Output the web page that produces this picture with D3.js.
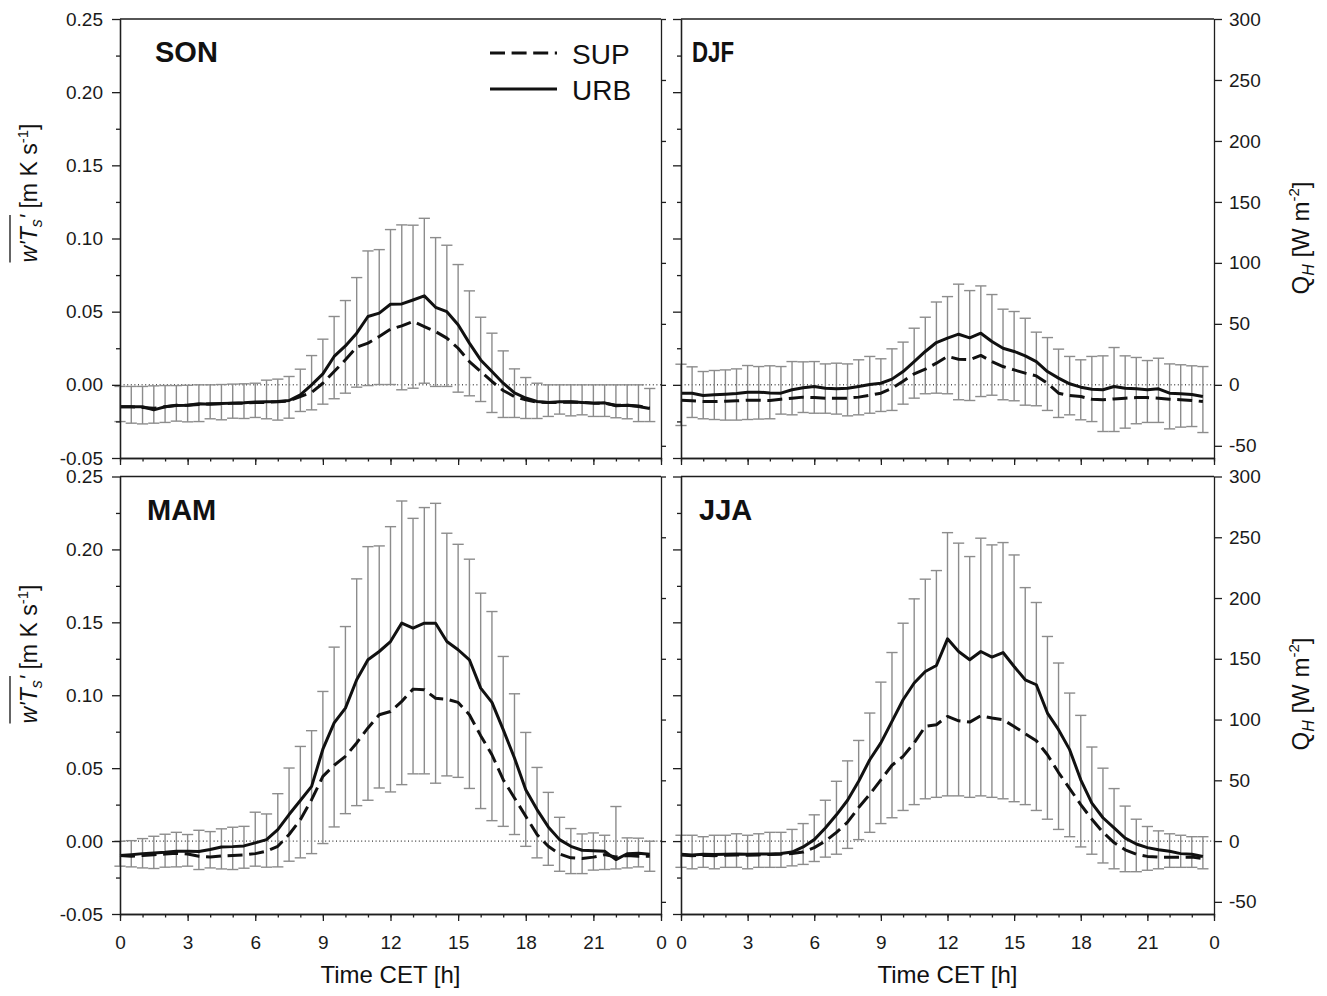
<!DOCTYPE html>
<html>
<head>
<meta charset="utf-8">
<title>Sensible heat flux</title>
<script src="https://cdn.jsdelivr.net/npm/d3@7/dist/d3.min.js"></script>
<style>
html,body{margin:0;padding:0;background:#fff;}
svg{display:block;}
</style>
</head>
<body>
<svg id="chart" width="1327" height="996" xmlns="http://www.w3.org/2000/svg"></svg>
<script>
// ---------------- DATA ----------------
const hours = [0,0.5,1,1.5,2,2.5,3,3.5,4,4.5,5,5.5,6,6.5,7,7.5,8,8.5,9,9.5,10,10.5,11,11.5,
               12,12.5,13,13.5,14,14.5,15,15.5,16,16.5,17,17.5,18,18.5,19,19.5,20,20.5,21,21.5,22,22.5,23,23.5];

const sonUrb = [-0.0150,-0.0150,-0.0150,-0.0171,-0.0150,-0.0141,-0.0139,-0.0130,-0.0132,-0.0127,-0.0125,-0.0123,-0.0118,-0.0116,-0.0114,-0.0107,
  -0.0068,0.0000,0.0075,0.0194,0.0266,0.0353,0.0467,0.0490,0.0551,0.0553,0.0580,0.0608,0.0530,0.0500,0.0410,0.0285,
  0.0170,0.0091,0.0011,-0.0055,-0.0090,-0.0114,-0.0121,-0.0116,-0.0116,-0.0121,-0.0125,-0.0123,-0.0143,-0.0139,-0.0148,-0.0162];
const sonSup = [-0.0150,-0.0150,-0.0155,-0.0160,-0.0150,-0.0140,-0.0140,-0.0135,-0.0130,-0.0130,-0.0125,-0.0125,-0.0120,-0.0120,-0.0115,-0.0110,
  -0.0080,-0.0052,0.0011,0.0091,0.0171,0.0257,0.0285,0.0330,0.0380,0.0403,0.0433,0.0398,0.0364,0.0319,0.0250,0.0159,
  0.0091,0.0023,-0.0039,-0.0080,-0.0102,-0.0118,-0.0120,-0.0120,-0.0118,-0.0120,-0.0125,-0.0125,-0.0140,-0.0140,-0.0145,-0.0158];
const sonTop = [-0.0011,-0.0011,-0.0011,-0.0007,-0.0005,-0.0005,-0.0003,0.0000,0.0000,0.0002,0.0005,0.0007,0.0011,0.0032,0.0039,0.0057,
  0.0107,0.0200,0.0312,0.0467,0.0576,0.0733,0.0915,0.0924,0.1061,0.1093,0.1091,0.1138,0.1006,0.0954,0.0822,0.0642,
  0.0462,0.0353,0.0232,0.0109,0.0050,0.0011,0.0000,0.0000,0.0000,0.0000,0.0000,0.0000,0.0000,0.0000,0.0000,-0.0025];
const sonBot = [-0.0251,-0.0262,-0.0267,-0.0262,-0.0257,-0.0248,-0.0253,-0.0251,-0.0232,-0.0239,-0.0228,-0.0230,-0.0223,-0.0232,-0.0241,-0.0228,
  -0.0182,-0.0171,-0.0132,-0.0095,-0.0057,-0.0016,-0.0005,0.0002,0.0002,-0.0034,-0.0023,0.0011,-0.0011,-0.0011,-0.0050,-0.0075,
  -0.0114,-0.0189,-0.0223,-0.0223,-0.0230,-0.0230,-0.0216,-0.0200,-0.0212,-0.0205,-0.0216,-0.0216,-0.0225,-0.0232,-0.0251,-0.0251];

const djfUrb = [-0.0057,-0.0057,-0.0073,-0.0068,-0.0064,-0.0059,-0.0050,-0.0050,-0.0055,-0.0057,-0.0034,-0.0020,-0.0011,-0.0023,-0.0027,-0.0023,
  -0.0011,0.0002,0.0011,0.0039,0.0091,0.0159,0.0228,0.0289,0.0319,0.0346,0.0321,0.0353,0.0296,0.0250,0.0228,0.0198,
  0.0159,0.0091,0.0046,0.0007,-0.0016,-0.0030,-0.0034,-0.0011,-0.0023,-0.0027,-0.0034,-0.0027,-0.0057,-0.0061,-0.0066,-0.0080];
const djfSup = [-0.0105,-0.0109,-0.0114,-0.0114,-0.0112,-0.0109,-0.0105,-0.0105,-0.0107,-0.0098,-0.0091,-0.0084,-0.0087,-0.0091,-0.0091,-0.0091,
  -0.0084,-0.0071,-0.0057,-0.0023,0.0025,0.0075,0.0107,0.0148,0.0194,0.0175,0.0171,0.0201,0.0159,0.0125,0.0102,0.0080,
  0.0061,0.0011,-0.0057,-0.0073,-0.0080,-0.0098,-0.0102,-0.0096,-0.0091,-0.0087,-0.0087,-0.0091,-0.0098,-0.0102,-0.0107,-0.0114];
const djfTop = [0.0141,0.0123,0.0091,0.0098,0.0102,0.0109,0.0132,0.0125,0.0130,0.0125,0.0159,0.0157,0.0159,0.0143,0.0148,0.0143,
  0.0171,0.0194,0.0178,0.0246,0.0292,0.0387,0.0462,0.0566,0.0603,0.0688,0.0644,0.0676,0.0617,0.0517,0.0501,0.0455,
  0.0360,0.0323,0.0244,0.0194,0.0171,0.0194,0.0198,0.0255,0.0198,0.0187,0.0166,0.0182,0.0143,0.0137,0.0130,0.0125];
const djfBot = [-0.0278,-0.0223,-0.0232,-0.0237,-0.0241,-0.0241,-0.0237,-0.0234,-0.0232,-0.0200,-0.0205,-0.0189,-0.0194,-0.0194,-0.0200,-0.0212,
  -0.0205,-0.0194,-0.0182,-0.0175,-0.0132,-0.0091,-0.0061,-0.0057,-0.0061,-0.0102,-0.0107,-0.0080,-0.0071,-0.0102,-0.0109,-0.0139,
  -0.0143,-0.0175,-0.0223,-0.0205,-0.0239,-0.0251,-0.0319,-0.0319,-0.0296,-0.0266,-0.0257,-0.0257,-0.0301,-0.0289,-0.0285,-0.0326];

const mamUrb = [-0.0099,-0.0093,-0.0086,-0.0081,-0.0077,-0.0070,-0.0070,-0.0072,-0.0058,-0.0040,-0.0038,-0.0033,-0.0012,0.0010,0.0079,0.0182,
  0.0278,0.0375,0.0630,0.0810,0.0912,0.1106,0.1243,0.1300,0.1368,0.1495,0.1460,0.1494,0.1494,0.1369,0.1312,0.1243,
  0.1049,0.0951,0.0764,0.0570,0.0352,0.0216,0.0097,0.0010,-0.0036,-0.0063,-0.0066,-0.0070,-0.0127,-0.0087,-0.0084,-0.0090];
const mamSup = [-0.0099,-0.0104,-0.0099,-0.0093,-0.0089,-0.0084,-0.0089,-0.0104,-0.0109,-0.0102,-0.0099,-0.0095,-0.0086,-0.0070,-0.0036,0.0045,
  0.0147,0.0284,0.0444,0.0520,0.0581,0.0673,0.0776,0.0866,0.0889,0.0958,0.1042,0.1038,0.0979,0.0973,0.0951,0.0866,
  0.0723,0.0592,0.0421,0.0296,0.0170,0.0045,-0.0036,-0.0088,-0.0115,-0.0119,-0.0110,-0.0093,-0.0109,-0.0099,-0.0104,-0.0104];
const mamTop = [-0.0001,0.0003,0.0017,0.0033,0.0047,0.0060,0.0045,0.0074,0.0065,0.0084,0.0095,0.0101,0.0198,0.0186,0.0325,0.0501,
  0.0649,0.0757,0.1026,0.1330,0.1471,0.1798,0.2019,0.2024,0.2156,0.2332,0.2213,0.2287,0.2316,0.2111,0.2035,0.1933,
  0.1700,0.1574,0.1266,0.1010,0.0745,0.0505,0.0334,0.0163,0.0086,0.0049,0.0056,0.0040,0.0237,0.0022,0.0020,-0.0001];
const mamBot = [-0.0172,-0.0177,-0.0184,-0.0188,-0.0179,-0.0177,-0.0172,-0.0195,-0.0184,-0.0191,-0.0195,-0.0186,-0.0172,-0.0179,-0.0177,-0.0138,
  -0.0115,-0.0086,-0.0017,0.0097,0.0188,0.0243,0.0280,0.0364,0.0337,0.0387,0.0461,0.0461,0.0397,0.0447,0.0437,0.0361,
  0.0223,0.0140,0.0101,0.0045,-0.0036,-0.0115,-0.0166,-0.0207,-0.0223,-0.0223,-0.0199,-0.0195,-0.0191,-0.0184,-0.0177,-0.0207];

const jjaUrb = [-0.0090,-0.0095,-0.0090,-0.0092,-0.0090,-0.0088,-0.0090,-0.0088,-0.0088,-0.0085,-0.0075,-0.0040,0.0010,0.0090,0.0180,0.0280,
  0.0410,0.0558,0.0673,0.0821,0.0969,0.1084,0.1163,0.1204,0.1387,0.1300,0.1243,0.1300,0.1262,0.1293,0.1197,0.1106,
  0.1072,0.0878,0.0764,0.0627,0.0420,0.0260,0.0160,0.0090,0.0020,-0.0020,-0.0045,-0.0060,-0.0070,-0.0086,-0.0090,-0.0106];
const jjaSup = [-0.0095,-0.0100,-0.0098,-0.0100,-0.0098,-0.0095,-0.0098,-0.0095,-0.0092,-0.0090,-0.0085,-0.0075,-0.0045,0.0000,0.0060,0.0130,
  0.0230,0.0320,0.0420,0.0520,0.0581,0.0673,0.0786,0.0798,0.0855,0.0825,0.0816,0.0860,0.0844,0.0832,0.0786,0.0736,
  0.0688,0.0592,0.0470,0.0360,0.0250,0.0150,0.0060,-0.0010,-0.0060,-0.0090,-0.0105,-0.0110,-0.0110,-0.0110,-0.0110,-0.0120];
const jjaTop = [0.0040,0.0040,0.0030,0.0040,0.0040,0.0050,0.0040,0.0050,0.0060,0.0060,0.0080,0.0120,0.0180,0.0280,0.0410,0.0550,
  0.0690,0.0878,0.1090,0.1293,0.1494,0.1661,0.1796,0.1855,0.2115,0.2043,0.1951,0.2077,0.2031,0.2047,0.1962,0.1738,
  0.1636,0.1403,0.1221,0.1015,0.0862,0.0645,0.0500,0.0360,0.0240,0.0150,0.0100,0.0070,0.0050,0.0040,0.0030,0.0030];
const jjaBot = [-0.0180,-0.0190,-0.0180,-0.0190,-0.0180,-0.0180,-0.0190,-0.0180,-0.0180,-0.0180,-0.0170,-0.0160,-0.0140,-0.0110,-0.0090,-0.0050,
  0.0010,0.0060,0.0120,0.0160,0.0210,0.0250,0.0290,0.0300,0.0310,0.0310,0.0300,0.0310,0.0300,0.0290,0.0270,0.0250,
  0.0210,0.0150,0.0080,0.0030,-0.0040,-0.0090,-0.0150,-0.0190,-0.0210,-0.0210,-0.0200,-0.0190,-0.0180,-0.0180,-0.0180,-0.0190];

const seasonNames = ["SON","DJF","MAM","JJA"];
const seriesNames = ["SUP","URB"];

const yMajorTicks = [-0.05,0,0.05,0.10,0.15,0.20,0.25];
const yMajorLabels = ["-0.05","0.00","0.05","0.10","0.15","0.20","0.25"];
const yMinorTicks = [-0.025,0.025,0.075,0.125,0.175,0.225];
const qTicks = [-50,0,50,100,150,200,250,300];
const qLabels = ["-50","0","50","100","150","200","250","300"];
const xMajorTicks = [0,3,6,9,12,15,18,21,24];
const xMajorLabels = ["0","3","6","9","12","15","18","21","0"];
const xMinorTicks = [0,1,2,3,4,5,6,7,8,9,10,11,12,13,14,15,16,17,18,19,20,21,22,23,24];

// ---------------- DRAWING ----------------
const FONT = "'Liberation Sans', Arial, Helvetica, sans-serif";
const AX = "#1e1e1e";
const BAR = "#8c8c8c";
const INK = "#111";
const TICKFS = 19;
const svg = d3.select("#chart");
svg.append("rect").attr("width",1327).attr("height",996).attr("fill","#fff");

const colRange = [[120,661],[681,1214]];
const rowRange = [[458,19],[914,476.5]];

const panels = [
  {name:seasonNames[0], urb:sonUrb, sup:sonSup, top:sonTop, bot:sonBot, col:0, row:0},
  {name:seasonNames[1], urb:djfUrb, sup:djfSup, top:djfTop, bot:djfBot, col:1, row:0},
  {name:seasonNames[2], urb:mamUrb, sup:mamSup, top:mamTop, bot:mamBot, col:0, row:1},
  {name:seasonNames[3], urb:jjaUrb, sup:jjaSup, top:jjaTop, bot:jjaBot, col:1, row:1}
];

function styleAxis(g, keepText){
  g.attr("font-family", null).attr("font-size", null);
  g.select(".domain").attr("stroke", AX).attr("stroke-width", 1.3);
  g.selectAll(".tick line").attr("stroke", AX).attr("stroke-width", 1.3);
  if (keepText) {
    g.selectAll(".tick text").attr("fill", "#1a1a1a")
      .style("font-family", FONT).style("font-size", TICKFS + "px");
  } else {
    g.selectAll(".tick text").remove();
  }
}

panels.forEach(p => {
  const x = d3.scaleLinear().domain([0,24]).range(colRange[p.col]);
  const y = d3.scaleLinear().domain([-0.05,0.25]).range(rowRange[p.row]);
  const q = d3.scaleLinear().domain([-60,300]).range(rowRange[p.row]);
  const g = svg.append("g").attr("class","panel");

  // zero reference line
  g.append("line")
    .attr("x1", x(0)).attr("x2", x(24)).attr("y1", y(0)).attr("y2", y(0))
    .attr("stroke", "#000").attr("stroke-width", 1).attr("stroke-dasharray", "1,2.6");

  // error bars
  const rows = hours.map((h,i) => ({h, top:p.top[i], bot:p.bot[i]}));
  const eb = g.append("g").attr("stroke", BAR).attr("stroke-width", 1.4).attr("fill","none");
  const bars = eb.selectAll("g").data(rows).join("g");
  bars.append("line").attr("x1", d => x(d.h)).attr("x2", d => x(d.h))
    .attr("y1", d => y(d.bot)).attr("y2", d => y(d.top));
  bars.append("line").attr("x1", d => x(d.h) - 5.6).attr("x2", d => x(d.h) + 5.6)
    .attr("y1", d => y(d.top)).attr("y2", d => y(d.top));
  bars.append("line").attr("x1", d => x(d.h) - 5.6).attr("x2", d => x(d.h) + 5.6)
    .attr("y1", d => y(d.bot)).attr("y2", d => y(d.bot));

  // series lines
  const line = d3.line().x((d,i) => x(hours[i])).y(d => y(d));
  g.append("path").datum(p.sup).attr("d", line).attr("fill","none")
    .attr("stroke", INK).attr("stroke-width", 3).attr("stroke-dasharray","15,6.6")
    .attr("stroke-linejoin","round");
  g.append("path").datum(p.urb).attr("d", line).attr("fill","none")
    .attr("stroke", INK).attr("stroke-width", 3).attr("stroke-linejoin","round");

  // frame top
  g.append("line").attr("x1", x(0)).attr("x2", x(24)).attr("y1", y(0.25)).attr("y2", y(0.25))
    .attr("stroke", AX).attr("stroke-width", 1.3);

  // left axis
  const x0 = colRange[p.col][0], x1 = colRange[p.col][1];
  const yBottom = rowRange[p.row][0];
  const gl1 = g.append("g").attr("transform", `translate(${x0},0)`)
    .call(d3.axisLeft(y).tickValues(yMinorTicks).tickSize(4).tickSizeOuter(0).tickFormat(""));
  styleAxis(gl1, false);
  const gl2 = g.append("g").attr("transform", `translate(${x0},0)`)
    .call(d3.axisLeft(y).tickValues(yMajorTicks).tickSize(8).tickPadding(9).tickSizeOuter(0)
      .tickFormat((d,i) => yMajorLabels[i]));
  styleAxis(gl2, p.col === 0);

  // right axis (Q_H)
  const gr = g.append("g").attr("transform", `translate(${x1},0)`)
    .call(d3.axisRight(q).tickValues(qTicks).tickSize(p.col === 1 ? 8 : 5).tickPadding(7).tickSizeOuter(0)
      .tickFormat((d,i) => qLabels[i]));
  styleAxis(gr, p.col === 1);
  if (p.col === 1) gr.selectAll(".tick text").attr("text-anchor","start");

  // bottom axis
  const gb1 = g.append("g").attr("transform", `translate(0,${yBottom})`)
    .call(d3.axisBottom(x).tickValues(xMinorTicks).tickSize(3.5).tickSizeOuter(0).tickFormat(""));
  styleAxis(gb1, false);
  const gb2 = g.append("g").attr("transform", `translate(0,${yBottom})`)
    .call(d3.axisBottom(x).tickValues(xMajorTicks).tickSize(7).tickPadding(15).tickSizeOuter(0)
      .tickFormat((d,i) => xMajorLabels[i]));
  styleAxis(gb2, p.row === 1);

  // season label
  const lbl = g.append("text")
    .attr("x", x0 + (p.col === 0 ? 35 : 11))
    .attr("y", rowRange[p.row][1] + 43)
    .attr("font-family", FONT).attr("font-weight", "bold").attr("font-size", 29)
    .attr("fill", INK).text(p.name);
  if (p.name === "DJF") lbl.attr("textLength", 42).attr("lengthAdjust", "spacingAndGlyphs");
  if (p.col === 0 && p.row === 1) lbl.attr("x", x0 + 27);
  if (p.col === 1 && p.row === 1) lbl.attr("x", x0 + 18);

  // x axis title
  if (p.row === 1) {
    svg.append("text").attr("x", (x0 + x1) / 2).attr("y", 983)
      .attr("text-anchor", "middle").attr("font-family", FONT).attr("font-size", 24)
      .attr("fill", INK).text("Time CET [h]");
  }
});

// legend (in SON panel)
const legend = svg.append("g");
const legendItems = [
  {name: seriesNames[0], dash: "15,6.6", y: 53},
  {name: seriesNames[1], dash: null, y: 89}
];
legendItems.forEach(it => {
  legend.append("line").attr("x1", 490).attr("x2", 557).attr("y1", it.y).attr("y2", it.y)
    .attr("stroke", INK).attr("stroke-width", 3).attr("stroke-dasharray", it.dash);
  legend.append("text").attr("x", 572).attr("y", it.y + 10.5)
    .attr("font-family", FONT).attr("font-size", 28).attr("fill", INK).text(it.name);
});

// left y-axis titles
function leftLabel(cy) {
  const gg = svg.append("g").attr("transform", `translate(37,${cy}) rotate(-90)`);
  const t = gg.append("text").attr("font-family", FONT).attr("font-size", 23).attr("fill", INK);
  t.append("tspan").attr("font-style", "italic").text("w'T");
  t.append("tspan").attr("font-style", "italic").attr("font-size", 16).attr("dy", 5).text("s");
  t.append("tspan").attr("font-style", "italic").attr("dy", -5).text("'");
  t.append("tspan").text(" [m K s");
  t.append("tspan").attr("font-size", 15).attr("dy", -9).text("-1");
  t.append("tspan").attr("dy", 9).text("]");
  const len = t.node().getComputedTextLength();
  t.attr("x", -len / 2);
  const n = t.node();
  const s0 = n.getStartPositionOfChar(0).x;
  const e4 = n.getEndPositionOfChar(4).x;
  gg.append("line").attr("x1", s0).attr("x2", e4).attr("y1", -27).attr("y2", -27)
    .attr("stroke", INK).attr("stroke-width", 1.3);
}
leftLabel(193);
leftLabel(654);

// right y-axis titles
function rightLabel(cy) {
  const gg = svg.append("g").attr("transform", `translate(1309,${cy}) rotate(-90)`);
  const t = gg.append("text").attr("font-family", FONT).attr("font-size", 24).attr("fill", INK)
    .attr("text-anchor", "middle");
  t.append("tspan").text("Q");
  t.append("tspan").attr("font-style", "italic").attr("font-size", 16).attr("dy", 5).text("H");
  t.append("tspan").attr("dy", -5).text(" [W m");
  t.append("tspan").attr("font-size", 15).attr("dy", -10).text("-2");
  t.append("tspan").attr("dy", 10).text("]");
}
rightLabel(238);
rightLabel(694);
</script>
</body>
</html>
